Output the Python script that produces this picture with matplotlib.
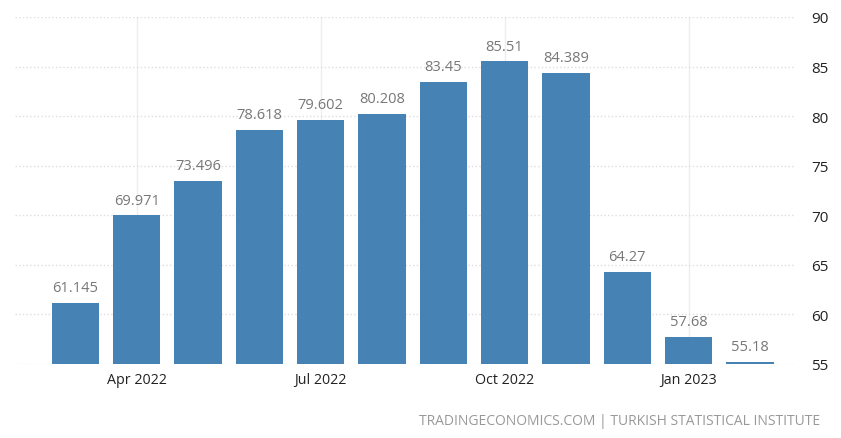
import matplotlib
matplotlib.use('Agg')
import matplotlib.pyplot as plt

months = ['Mar 2022', 'Apr 2022', 'May 2022', 'Jun 2022', 'Jul 2022', 'Aug 2022',
          'Sep 2022', 'Oct 2022', 'Nov 2022', 'Dec 2022', 'Jan 2023', 'Feb 2023']
values = [61.145, 69.971, 73.496, 78.618, 79.602, 80.208,
          83.45, 85.51, 84.389, 64.27, 57.68, 55.18]
labels = ['61.145', '69.971', '73.496', '78.618', '79.602', '80.208',
          '83.45', '85.51', '84.389', '64.27', '57.68', '55.18']
tick_months = ['Apr 2022', 'Jul 2022', 'Oct 2022', 'Jan 2023']
yticks = [55, 60, 65, 70, 75, 80, 85, 90]

plt.rcParams['font.family'] = ['Open Sans', 'DejaVu Sans']

fig = plt.figure(figsize=(8.41, 4.39), dpi=100)
ax = fig.add_axes([0.018, 0.169, 0.927, 0.79])

x = list(range(len(months)))
ax.bar(x, [v - 55 for v in values], bottom=55, width=0.77, color='#4682b4', zorder=3)
for xi, v, lab in zip(x, values, labels):
    ax.text(xi, v + 0.8, lab, ha='center', va='bottom', fontsize=10.5, color='#777777', zorder=4)

ax.set_ylim(55, 90)
ax.set_xlim(-0.98, 11.73)
ax.set_yticks(yticks)
ax.yaxis.tick_right()
ax.tick_params(axis='y', length=0, pad=12, labelsize=11, labelcolor='#222222')

tick_pos = [months.index(m) for m in tick_months]
ax.set_xticks(tick_pos)
ax.set_xticklabels(tick_months)
ax.tick_params(axis='x', length=0, pad=6, labelsize=10.3, labelcolor='#222222')

ax.grid(axis='y', color='#dddddd', linestyle=':', linewidth=1, zorder=0)
ax.grid(axis='x', color='#eeeeee', linestyle='-', linewidth=1, zorder=0)
for s in ax.spines.values():
    s.set_visible(False)

fig.text(0.975, 0.04, 'TRADINGECONOMICS.COM | TURKISH STATISTICAL INSTITUTE',
         ha='right', va='center', fontsize=10, color='#999999')

fig.savefig('out.png', dpi=100)
